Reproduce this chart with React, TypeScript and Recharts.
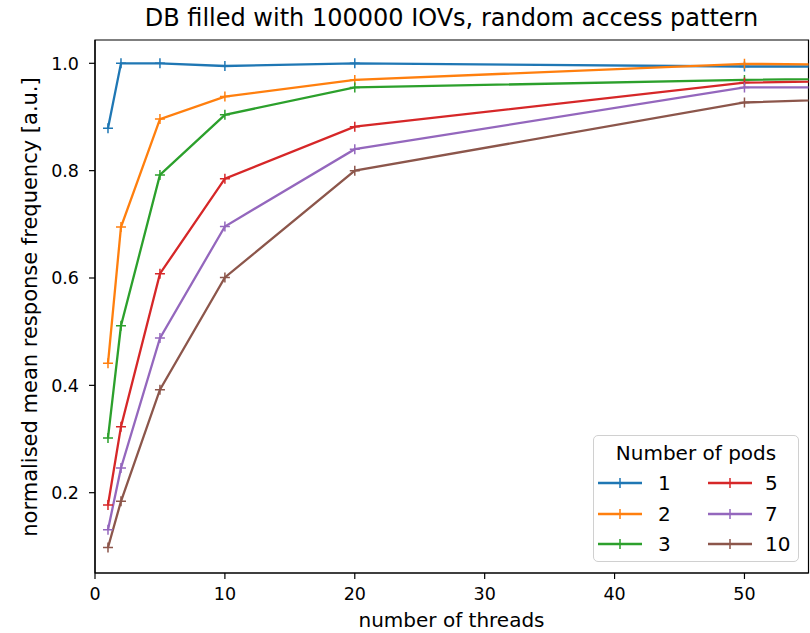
import { LineChart, Line, XAxis, YAxis, ReferenceArea } from "recharts";

// number of threads (last point lies beyond the visible x range)
const threads = [1, 2, 5, 10, 20, 50, 100];

// normalised mean response frequency per number of pods
const pods1 = [0.879, 1.0, 1.0, 0.995, 1.0, 0.994, 0.994];
const pods2 = [0.441, 0.695, 0.896, 0.938, 0.969, 0.999, 0.989];
const pods3 = [0.302, 0.511, 0.792, 0.904, 0.955, 0.969, 0.986];
const pods5 = [0.177, 0.323, 0.608, 0.785, 0.882, 0.964, 0.982];
const pods7 = [0.131, 0.246, 0.488, 0.696, 0.84, 0.955, 0.957];
const pods10 = [0.098, 0.184, 0.392, 0.601, 0.8, 0.927, 0.965];

const podLabels = ["1", "2", "3", "5", "7", "10"];
const seriesValues = [pods1, pods2, pods3, pods5, pods7, pods10];
const colors = ["#1f77b4", "#ff7f0e", "#2ca02c", "#d62728", "#9467bd", "#8c564b"];

const xTicks = [0, 10, 20, 30, 40, 50];
const yTicks = [0.2, 0.4, 0.6, 0.8, 1.0];

const X_MAX = 54.93;
const Y_MIN = 0.0504;
const Y_MAX = 1.0434;

const data = threads.map((t, i) => {
  const row: Record<string, number> = { threads: t };
  podLabels.forEach((p, k) => {
    row["p" + p] = seriesValues[k][i];
  });
  return row;
});

function PlusDot(props: any) {
  const { cx, cy, stroke, payload } = props;
  if (cx == null || cy == null || payload.threads > X_MAX) return <g key={props.key} />;
  return (
    <path
      key={props.key}
      d={`M${cx - 5},${cy}H${cx + 5}M${cx},${cy - 5}V${cy + 5}`}
      stroke={stroke}
      strokeWidth={1.5}
      fill="none"
    />
  );
}

function LegendSwatch({ color }: { color: string }) {
  return (
    <svg width={44} height={12} style={{ display: "block" }}>
      <line x1={0} y1={6} x2={44} y2={6} stroke={color} strokeWidth={2.3} />
      <path d="M22,1V11M17,6H27" stroke={color} strokeWidth={1.5} />
    </svg>
  );
}

const axisStroke = { stroke: "#000", strokeWidth: 1.2 };
const tickStyle = { fontSize: 17.5, fill: "#000" };

export default function App() {
  return (
    <div
      style={{
        position: "relative",
        width: 810,
        height: 633,
        background: "#fff",
        fontFamily: "'DejaVu Sans', sans-serif",
        color: "#000",
      }}
    >
      <style>{"body{margin:0}"}</style>
      <LineChart width={810} height={633} data={data} margin={{ top: 40, right: 1.5, bottom: 0, left: 0 }}>
        <XAxis
          dataKey="threads"
          type="number"
          domain={[0, X_MAX]}
          allowDataOverflow
          ticks={xTicks}
          height={60}
          tickSize={6}
          tickMargin={9}
          axisLine={axisStroke}
          tickLine={axisStroke}
          tick={tickStyle}
        />
        <YAxis
          type="number"
          domain={[Y_MIN, Y_MAX]}
          allowDataOverflow
          ticks={yTicks}
          width={95}
          tickSize={6}
          tickMargin={10}
          tickFormatter={(v: number) => v.toFixed(1)}
          axisLine={axisStroke}
          tickLine={axisStroke}
          tick={tickStyle}
        />
        {podLabels.map((p, k) => (
          <Line
            key={p}
            dataKey={"p" + p}
            name={p}
            stroke={colors[k]}
            strokeWidth={2.3}
            type="linear"
            dot={<PlusDot />}
            activeDot={false}
            isAnimationActive={false}
          />
        ))}
        <ReferenceArea
          x1={0}
          x2={X_MAX}
          y1={Y_MIN}
          y2={Y_MAX}
          fill="none"
          fillOpacity={0}
          stroke="#000"
          strokeWidth={1.2}
          ifOverflow="visible"
        />
      </LineChart>

      <div style={{ position: "absolute", left: 95, width: 713, top: 6, textAlign: "center", fontSize: 24, lineHeight: "24px", whiteSpace: "nowrap" }}>
        DB filled with 100000 IOVs, random access pattern
      </div>
      <div style={{ position: "absolute", left: 95, width: 713, top: 610, textAlign: "center", fontSize: 20, lineHeight: "20px", whiteSpace: "nowrap" }}>
        number of threads
      </div>
      <div
        style={{
          position: "absolute",
          left: 30,
          top: 307,
          transform: "translate(-50%, -50%) rotate(-90deg)",
          fontSize: 21,
          lineHeight: "21px",
          whiteSpace: "nowrap",
        }}
      >
        normalised mean response frequency [a.u.]
      </div>

      <div
        style={{
          position: "absolute",
          left: 593,
          top: 435,
          width: 206,
          height: 127,
          boxSizing: "border-box",
          border: "1px solid #d0d0d0",
          borderRadius: 5,
          background: "rgba(255,255,255,0.8)",
        }}
      >
        <div style={{ position: "absolute", left: 0, right: 0, top: 7, textAlign: "center", fontSize: 20, lineHeight: "20px" }}>
          Number of pods
        </div>
        {podLabels.map((p, k) => {
          const col = Math.floor(k / 3);
          const row = k % 3;
          const cy = 47 + row * 30.5;
          return (
            <div key={p}>
              <div style={{ position: "absolute", left: col === 0 ? 4 : 114, top: cy - 6 }}>
                <LegendSwatch color={colors[k]} />
              </div>
              <div style={{ position: "absolute", left: col === 0 ? 64 : 171, top: cy - 10, fontSize: 20, lineHeight: "20px" }}>{p}</div>
            </div>
          );
        })}
      </div>
    </div>
  );
}
